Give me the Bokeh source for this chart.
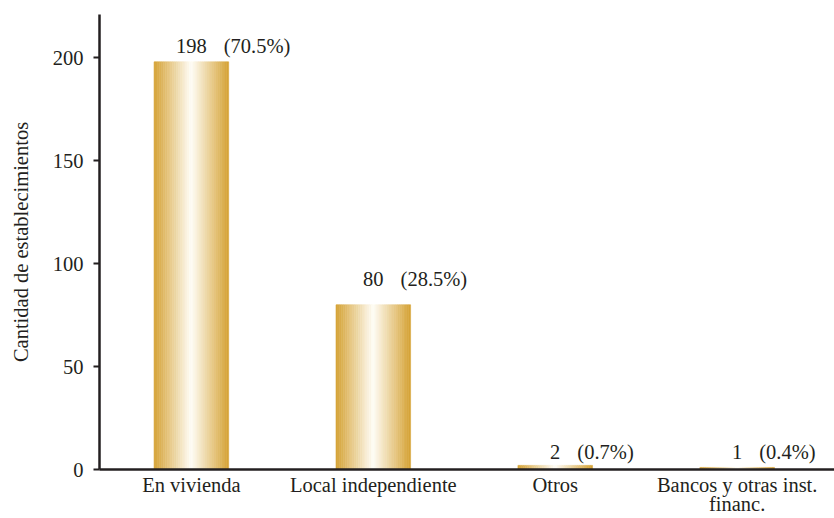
import numpy as np
from bokeh.plotting import figure
from bokeh.models import Range1d, FixedTicker, ColumnDataSource
from bokeh.embed import file_html
from bokeh.resources import INLINE
from bokeh.core.properties import value

# ---- data ----
categories = ["En vivienda", "Local independiente", "Otros", "Bancos y otras inst.\nfinanc."]
counts = [198, 80, 2, 1]
percents = ["70.5", "28.5", "0.7", "0.4"]
y_ticks = [0, 50, 100, 150, 200]

# ---- style ----
FONT = "Liberation Serif, Times New Roman, serif"
INK = "#231f20"
GOLD = (213, 162, 52)
WHITE = (255, 253, 247)
BAR_W = 0.41
N_STRIPS = 40
FS = 20.5
FSS = "20.5px"
label_lift = [16, 26, 13, 15]

p = figure(width=834, height=518, output_backend="svg", toolbar_location=None,
           x_range=Range1d(-0.505, 3.535), y_range=Range1d(0, 221),
           min_border_left=99, min_border_right=0, min_border_top=14, min_border_bottom=49)
p.outline_line_color = None
p.grid.visible = False

xs = np.arange(len(categories))

sx, stop, scol = [], [], []
for i, v in enumerate(counts):
    for k in range(N_STRIPS):
        t = (k + 0.5) / N_STRIPS
        w = 1 - abs(2 * t - 1)
        c = tuple(int(round(g * (1 - w) + wh * w)) for g, wh in zip(GOLD, WHITE))
        sx.append(xs[i] - BAR_W / 2 + t * BAR_W)
        stop.append(v)
        scol.append("#%02x%02x%02x" % c)
p.vbar(x=sx, top=stop, bottom=0, width=BAR_W / N_STRIPS,
       fill_color=scol, line_color=scol, line_width=0.6)

src = ColumnDataSource(dict(
    x=xs, y=counts,
    num=[str(c) for c in counts],
    pct=["(%s%%)" % q for q in percents],
    off=[len(str(c)) * 0.25 * FS + 17 for c in counts],
    yo=[-l for l in label_lift],
))
p.text(x="x", y="y", text="num", source=src, text_align="center", text_baseline="alphabetic",
       y_offset="yo", text_font=value(FONT), text_font_size=FSS, text_color=INK)
p.text(x="x", y="y", text="pct", source=src, text_align="left", text_baseline="alphabetic",
       x_offset="off", y_offset="yo", text_font=value(FONT), text_font_size=FSS, text_color=INK)

for ax in (p.xaxis[0], p.yaxis[0]):
    ax.axis_line_color = INK
    ax.axis_line_width = 2.5
    ax.major_label_text_font = FONT
    ax.major_label_text_font_size = FSS
    ax.major_label_text_color = INK
    ax.minor_tick_line_color = None

p.xaxis.ticker = FixedTicker(ticks=[float(x) for x in xs])
p.xaxis.major_label_overrides = {float(i): c for i, c in enumerate(categories)}
p.xaxis.major_tick_line_color = None
p.xaxis.major_tick_in = 0
p.xaxis.major_tick_out = 0
p.xaxis.major_label_standoff = 4
p.xaxis.major_label_text_line_height = 0.88

p.yaxis.ticker = FixedTicker(ticks=y_ticks)
p.yaxis.major_tick_in = 0
p.yaxis.major_tick_out = 6
p.yaxis.major_tick_line_width = 2
p.yaxis.major_tick_line_color = INK
p.yaxis.major_label_standoff = 10
p.yaxis.axis_label = "Cantidad de establecimientos"
p.yaxis.axis_label_text_font = FONT
p.yaxis.axis_label_text_font_size = FSS
p.yaxis.axis_label_text_font_style = "normal"
p.yaxis.axis_label_text_color = INK
p.yaxis.axis_label_standoff = 18

open("out.html", "w").write(file_html(p, INLINE))
